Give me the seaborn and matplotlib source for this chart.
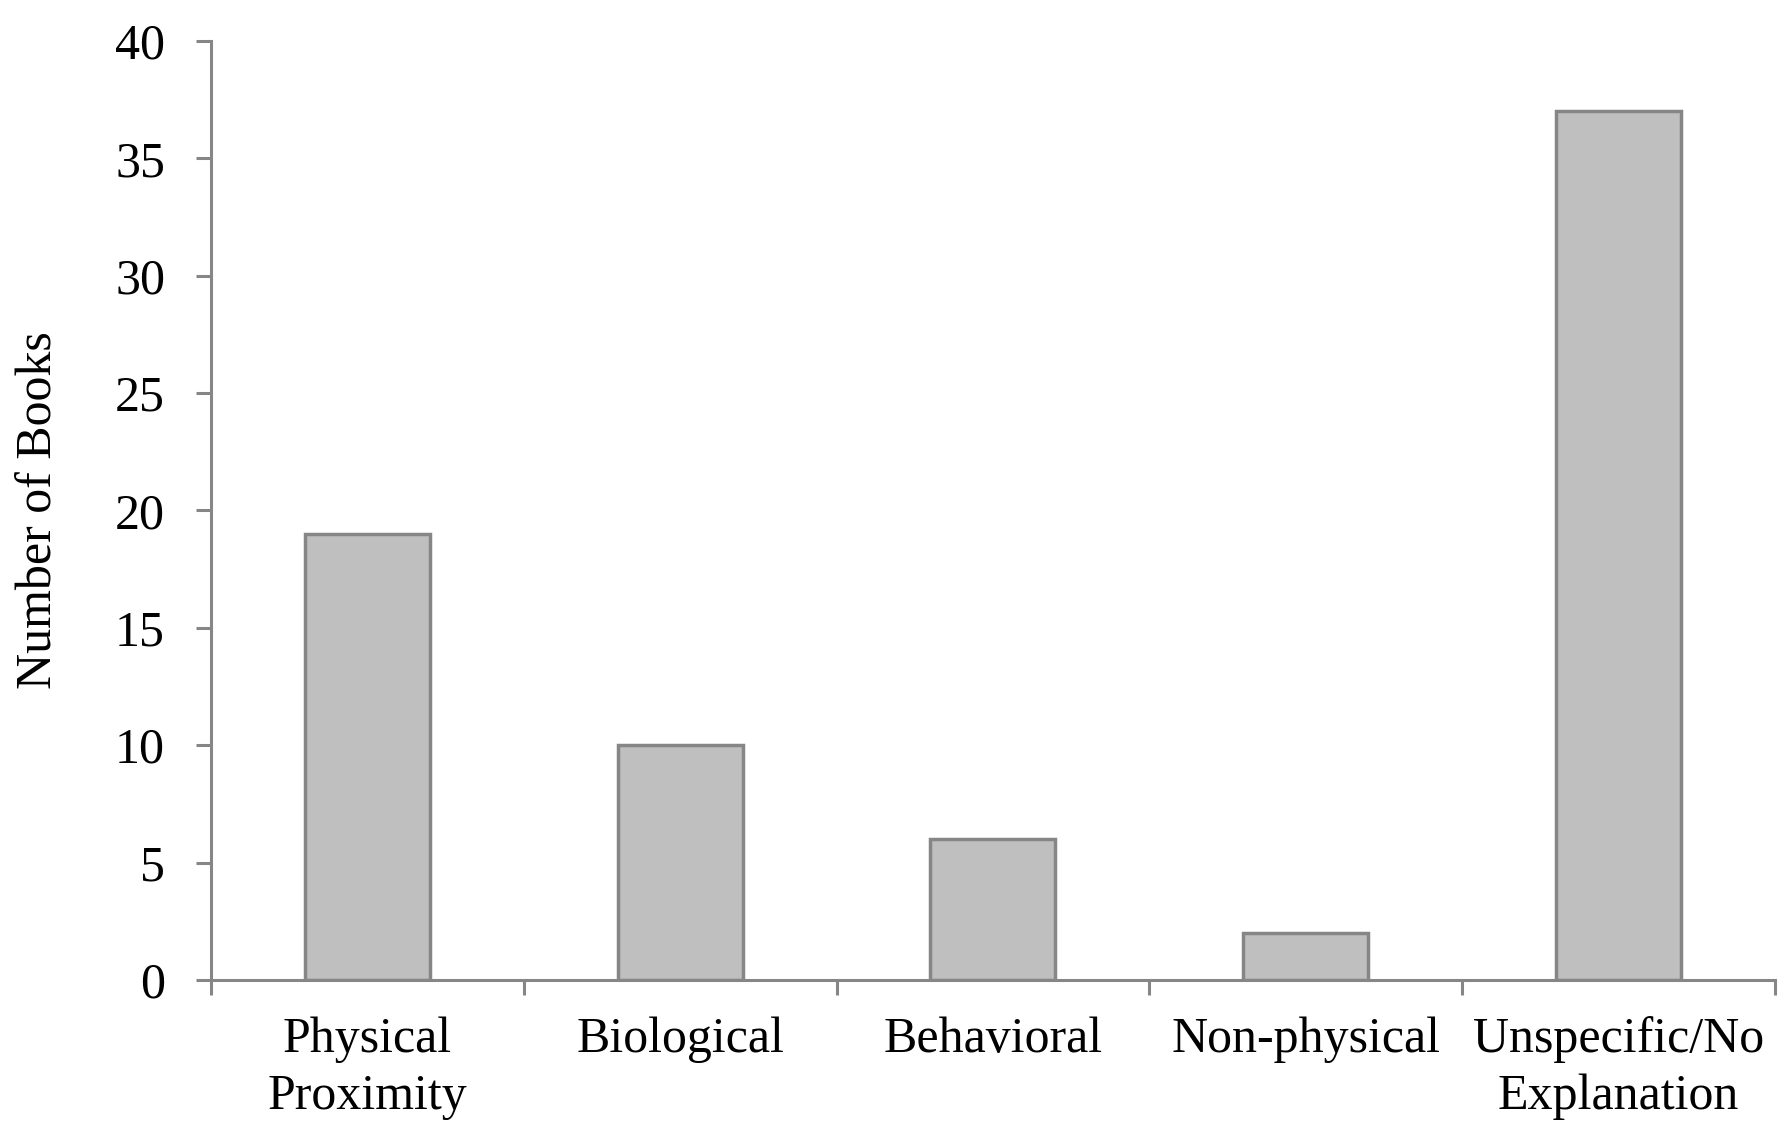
import matplotlib
matplotlib.use('Agg')
import matplotlib.pyplot as plt
import numpy as np
import pandas as pd
import seaborn as sns

categories = ['Physical\nProximity', 'Biological', 'Behavioral', 'Non-physical', 'Unspecific/No\nExplanation']
books = [19, 10, 6, 2, 37]
yticks = [0, 5, 10, 15, 20, 25, 30, 35, 40]

df = pd.DataFrame({'category': categories, 'books': books})

sns.set_style('white')
plt.rcParams['font.family'] = ['Liberation Serif', 'DejaVu Serif']
plt.rcParams['text.color'] = 'black'
plt.rcParams['axes.labelcolor'] = 'black'

axis_grey = '#868686'

fig = plt.figure(figsize=(17.86, 11.32), dpi=100)
ax = fig.add_axes([0.1181, 0.1343, 0.8757, 0.8295])

sns.barplot(data=df, x='category', y='books', ax=ax, width=0.4,
            color='#bfbfbf', edgecolor=axis_grey, linewidth=2.5, saturation=1)

ax.set_xlim(-0.5, len(categories) - 0.5)
ax.set_ylim(0, 40)
ax.set_yticks(yticks)
ax.set_yticklabels([str(t) for t in yticks])

# category boundaries get the tick marks, labels sit in between
ax.set_xticks(np.arange(-0.5, len(categories)), minor=True)
ax.tick_params(axis='x', which='minor', direction='out', length=11, width=2.2,
               color=axis_grey, bottom=True)
ax.tick_params(axis='x', which='major', length=0, pad=26, labelsize=36,
               labelcolor='black')
for lab in ax.get_xticklabels():
    lab.set_linespacing(1.3)
ax.tick_params(axis='y', direction='out', length=11, width=2.2, color=axis_grey,
               left=True, pad=22, labelsize=36, labelcolor='black')

for side in ['top', 'right']:
    ax.spines[side].set_visible(False)
for side in ['left', 'bottom']:
    ax.spines[side].set_color(axis_grey)
    ax.spines[side].set_linewidth(2.2)

ax.set_xlabel('')
ax.set_ylabel('Number of Books', fontsize=36, labelpad=38)

fig.savefig('out.png', dpi=100)
